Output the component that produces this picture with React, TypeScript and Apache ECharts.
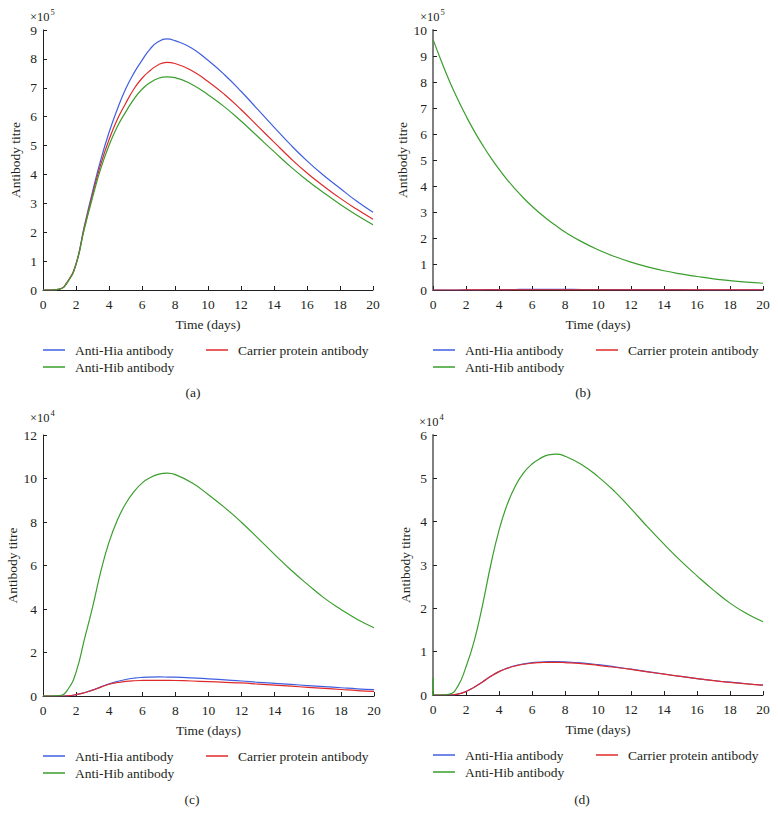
import React, { useEffect, useRef } from "react";
import * as echarts from "echarts";

const FONT = '"Liberation Serif", "Times New Roman", serif';
const INK = "#231f20";
const BLUE = "#3f5fe0";
const RED = "#e02a2a";
const GREEN = "#3a9e2c";

const NAME_HIA = "Anti-Hia antibody";
const NAME_CARRIER = "Carrier protein antibody";
const NAME_HIB = "Anti-Hib antibody";

// sample days (shared)
const DAYS = [0, 0.5, 1, 1.5, 2, 2.5, 3, 3.5, 4, 4.5, 5, 5.5, 6, 6.5, 7, 7.5, 8, 9, 10, 11, 12, 13, 14, 15, 16, 17, 18, 19, 20];

// Panel (a): units of 10^5
const A_HIA = [0, 0, 0.03, 0.3, 0.9, 2.2, 3.4, 4.5, 5.45, 6.25, 6.95, 7.5, 7.95, 8.35, 8.6, 8.69, 8.63, 8.38, 7.95, 7.45, 6.88, 6.26, 5.64, 5.03, 4.47, 3.97, 3.52, 3.08, 2.69];
const A_CARRIER = [0, 0, 0.03, 0.3, 0.9, 2.15, 3.3, 4.35, 5.2, 5.9, 6.45, 6.95, 7.33, 7.6, 7.8, 7.88, 7.84, 7.6, 7.22, 6.77, 6.25, 5.68, 5.12, 4.56, 4.05, 3.6, 3.18, 2.8, 2.45];
const A_HIB = [0, 0, 0.03, 0.28, 0.88, 2.1, 3.2, 4.2, 5.0, 5.65, 6.15, 6.6, 6.95, 7.18, 7.33, 7.38, 7.35, 7.12, 6.76, 6.34, 5.85, 5.32, 4.79, 4.27, 3.8, 3.37, 2.97, 2.6, 2.26];

// Panel (b): units of 10^5
const B_HIA = [0, 0, 0, 0, 0.003, 0.006, 0.01, 0.013, 0.016, 0.018, 0.02, 0.021, 0.022, 0.022, 0.022, 0.022, 0.021, 0.02, 0.019, 0.017, 0.016, 0.014, 0.012, 0.011, 0.009, 0.008, 0.007, 0.006, 0.005];
const B_CARRIER = [0, 0, 0, 0, 0.001, 0.002, 0.004, 0.005, 0.006, 0.007, 0.008, 0.008, 0.009, 0.009, 0.009, 0.009, 0.008, 0.008, 0.007, 0.007, 0.006, 0.005, 0.005, 0.004, 0.004, 0.003, 0.003, 0.002, 0.002];
const B_HIB = [9.64, 8.81, 8.03, 7.34, 6.7, 6.11, 5.58, 5.09, 4.65, 4.24, 3.87, 3.53, 3.22, 2.94, 2.68, 2.45, 2.23, 1.86, 1.55, 1.29, 1.07, 0.89, 0.74, 0.62, 0.52, 0.43, 0.36, 0.3, 0.26];

// Panel (c): units of 10^4
const C_HIA = [0, 0, 0, 0.01, 0.06, 0.15, 0.27, 0.42, 0.56, 0.67, 0.76, 0.82, 0.855, 0.87, 0.875, 0.872, 0.865, 0.83, 0.79, 0.74, 0.69, 0.63, 0.58, 0.53, 0.48, 0.43, 0.38, 0.33, 0.29];
const C_CARRIER = [0, 0, 0, 0.01, 0.06, 0.15, 0.27, 0.41, 0.54, 0.62, 0.67, 0.7, 0.715, 0.72, 0.72, 0.718, 0.712, 0.69, 0.66, 0.63, 0.6, 0.55, 0.5, 0.45, 0.4, 0.35, 0.3, 0.25, 0.21];
const C_HIB = [0, 0, 0.02, 0.3, 1.1, 2.6, 4.1, 5.75, 7.1, 8.1, 8.85, 9.4, 9.8, 10.05, 10.2, 10.25, 10.18, 9.8, 9.25, 8.65, 7.98, 7.25, 6.5, 5.78, 5.12, 4.5, 3.98, 3.52, 3.14];

// Panel (d): units of 10^4
const D_HIA = [0, 0, 0, 0.02, 0.08, 0.18, 0.3, 0.43, 0.54, 0.62, 0.68, 0.72, 0.745, 0.76, 0.768, 0.77, 0.765, 0.74, 0.7, 0.65, 0.595, 0.54, 0.485, 0.43, 0.38, 0.335, 0.295, 0.26, 0.23];
const D_CARRIER = [0, 0, 0, 0.02, 0.08, 0.18, 0.3, 0.43, 0.54, 0.615, 0.67, 0.71, 0.735, 0.748, 0.755, 0.755, 0.748, 0.725, 0.685, 0.64, 0.59, 0.535, 0.48, 0.428, 0.378, 0.333, 0.293, 0.258, 0.228];
const D_HIB_SPIKE = [[0, 0.39], [0, 0]];
const D_HIB = [0, 0, 0.02, 0.2, 0.65, 1.25, 2.07, 3.0, 3.8, 4.4, 4.83, 5.13, 5.33, 5.46, 5.54, 5.56, 5.51, 5.32, 5.04, 4.7, 4.3, 3.88, 3.48, 3.1, 2.75, 2.42, 2.12, 1.88, 1.69];

const Y_MAX = [9, 10, 12, 6];
const Y_INTERVAL = [1, 1, 2, 1];
const EXPONENTS = ["5", "5", "4", "4"];
const CAPTIONS = ["(a)", "(b)", "(c)", "(d)"];

const pairs = (xs: number[], ys: number[]) => xs.map((x, i) => [x, ys[i]]);

export default function App() {
  const ref = useRef<HTMLDivElement>(null);

  useEffect(() => {
    if (!ref.current) return;
    const chart = echarts.init(ref.current, null, { renderer: "svg" });

    const grids = [
      { left: 43, top: 30, width: 330, height: 260 },
      { left: 433, top: 30, width: 330, height: 260 },
      { left: 43, top: 435, width: 331, height: 261 },
      { left: 433, top: 435, width: 330, height: 260 },
    ];
    const thickAxis = [false, true, false, true];

    const xAxis = grids.map((_, i) => ({
      type: "value",
      gridIndex: i,
      min: 0,
      max: 20,
      interval: 2,
      name: "Time (days)",
      nameLocation: "middle",
      nameGap: 27,
      nameTextStyle: { fontFamily: FONT, fontSize: 13.5, color: INK },
      axisLine: { show: true, lineStyle: { color: INK, width: 1 } },
      axisTick: { show: true, inside: true, length: 4, lineStyle: { color: INK } },
      axisLabel: { fontFamily: FONT, fontSize: 13.5, color: INK, margin: 7 },
      splitLine: { show: false },
    }));

    const yAxis = grids.map((_, i) => ({
      type: "value",
      gridIndex: i,
      min: 0,
      max: Y_MAX[i],
      interval: Y_INTERVAL[i],
      name: "Antibody titre",
      nameLocation: "middle",
      nameGap: 21,
      nameTextStyle: { fontFamily: FONT, fontSize: 13.5, color: INK },
      axisLine: {
        show: true,
        lineStyle: thickAxis[i] ? { color: "#808080", width: 2 } : { color: INK, width: 1 },
      },
      axisTick: { show: true, inside: true, length: 4, lineStyle: { color: INK } },
      axisLabel: { fontFamily: FONT, fontSize: 13.5, color: INK, margin: 6 },
      splitLine: { show: false },
    }));

    const panelData = [
      [pairs(DAYS, A_HIA), pairs(DAYS, A_CARRIER), pairs(DAYS, A_HIB)],
      [pairs(DAYS, B_HIA), pairs(DAYS, B_CARRIER), pairs(DAYS, B_HIB)],
      [pairs(DAYS, C_HIA), pairs(DAYS, C_CARRIER), pairs(DAYS, C_HIB)],
      [pairs(DAYS, D_HIA), pairs(DAYS, D_CARRIER), pairs(DAYS, D_HIB)],
    ];
    const names = [NAME_HIA, NAME_CARRIER, NAME_HIB];
    const colors = [BLUE, RED, GREEN];
    const order = [2, 0, 1];

    const series: any[] = [];
    panelData.forEach((sets, p) => {
      order.forEach((k) => {
        series.push({
          type: "line",
          name: names[k],
          xAxisIndex: p,
          yAxisIndex: p,
          data: sets[k],
          showSymbol: false,
          symbol: "none",
          smooth: 0.5,
          lineStyle: { color: colors[k], width: 1.2 },
          itemStyle: { color: colors[k] },
          z: 3 + k,
        });
      });
    });
    // short initial spike of anti-Hib in panel (d)
    series.push({
      type: "line",
      name: NAME_HIB,
      xAxisIndex: 3,
      yAxisIndex: 3,
      data: D_HIB_SPIKE,
      showSymbol: false,
      symbol: "none",
      lineStyle: { color: GREEN, width: 1.5 },
      itemStyle: { color: GREEN },
      z: 6,
    });

    const legendRows = [
      [350, 367],
      [350, 367],
      [756, 773],
      [755, 772],
    ];
    const legendBase = {
      icon: "rect",
      itemWidth: 22,
      itemHeight: 1.5,
      itemGap: 5,
      selectedMode: false,
      padding: 0,
      textStyle: { fontFamily: FONT, fontSize: 13.5, color: INK, width: 126, lineHeight: 16, padding: [0, 0, 0, 5] },
    };
    const legend: any[] = [];
    grids.forEach((g, p) => {
      legend.push({ ...legendBase, left: g.left, top: legendRows[p][0] - 8, data: [NAME_HIA, NAME_CARRIER] });
      legend.push({ ...legendBase, left: g.left, top: legendRows[p][1] - 8, data: [NAME_HIB] });
    });

    const expPos = [
      { x: 30, y: 17, sy: 12 },
      { x: 420, y: 17, sy: 12 },
      { x: 30, y: 418, sy: 413 },
      { x: 419, y: 422, sy: 417 },
    ];
    const captionPos = [
      { x: 193, y: 392 },
      { x: 583, y: 392 },
      { x: 192, y: 799 },
      { x: 582, y: 799 },
    ];
    const graphic: any[] = [];
    expPos.forEach((e, p) => {
      graphic.push({
        type: "text",
        style: { text: "×10", x: e.x, y: e.y, font: `12.5px ${FONT}`, fill: INK, verticalAlign: "middle", align: "left" },
      });
      graphic.push({
        type: "text",
        style: { text: EXPONENTS[p], x: e.x + 20.5, y: e.sy, font: `8.5px ${FONT}`, fill: INK, verticalAlign: "middle", align: "left" },
      });
    });
    captionPos.forEach((c, p) => {
      graphic.push({
        type: "text",
        style: { text: CAPTIONS[p], x: c.x, y: c.y, font: `13.5px ${FONT}`, fill: INK, verticalAlign: "middle", align: "center" },
      });
    });

    chart.setOption({
      animation: false,
      backgroundColor: "#ffffff",
      grid: grids.map((g) => ({ ...g, containLabel: false })),
      xAxis,
      yAxis,
      legend,
      series,
      graphic,
    });

    return () => chart.dispose();
  }, []);

  return (
    <div
      ref={ref}
      style={{ position: "absolute", left: 0, top: 0, width: 778, height: 824, background: "#fff" }}
    />
  );
}
